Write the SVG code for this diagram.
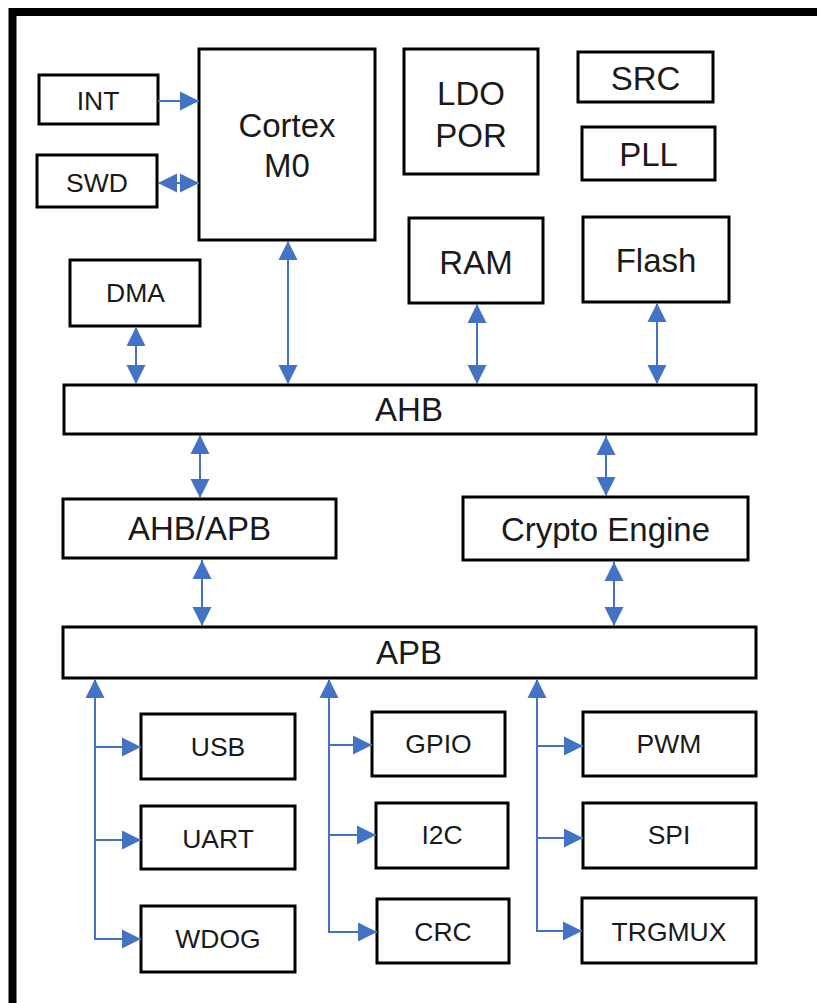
<svg xmlns="http://www.w3.org/2000/svg" width="817" height="1003" viewBox="0 0 817 1003">
<defs>
<marker id="ah" markerUnits="userSpaceOnUse" markerWidth="20" markerHeight="20" viewBox="0 0 20 20" refX="19" refY="10" orient="auto-start-reverse">
<path d="M0,0.5 L19,10 L0,19.5 z" fill="#4472C4"/>
</marker>
<style>
.b{fill:#fff;stroke:#000;stroke-width:3}
.t{font-family:"Liberation Sans",Arial,sans-serif;fill:#1a1a1a;text-anchor:middle}
.s{font-size:26.5px}
.l{font-size:33px}
.c{fill:none;stroke:#4472C4;stroke-width:2}
</style>
</defs>
<rect x="0" y="0" width="817" height="1003" fill="#fff"/>
<path d="M12.5,1003 L12.5,12 L817,12" fill="none" stroke="#000" stroke-width="8"/>

<g id="INT"><rect class="b" x="39" y="75" width="119" height="49"/><text class="t s" x="98" y="110">INT</text></g>
<g id="SWD"><rect class="b" x="37" y="155" width="120" height="52"/><text class="t s" x="97" y="192">SWD</text></g>
<g id="Cortex"><rect class="b" x="199" y="49" width="176" height="191"/><text class="t l" x="287" y="137">Cortex</text><text class="t l" x="287" y="177">M0</text></g>
<g id="LDO"><rect class="b" x="404" y="49" width="134" height="125"/><text class="t l" x="471" y="105">LDO</text><text class="t l" x="471" y="147">POR</text></g>
<g id="SRC"><rect class="b" x="578" y="52" width="135" height="50"/><text class="t l" x="645.5" y="90">SRC</text></g>
<g id="PLL"><rect class="b" x="582" y="127" width="133" height="53"/><text class="t l" x="648.5" y="166">PLL</text></g>
<g id="DMA"><rect class="b" x="70" y="260" width="130" height="66"/><text class="t s" x="135.5" y="302">DMA</text></g>
<g id="RAM"><rect class="b" x="409" y="218" width="134" height="85"/><text class="t l" x="476" y="274">RAM</text></g>
<g id="Flash"><rect class="b" x="583" y="217" width="146" height="85"/><text class="t l" x="656" y="272">Flash</text></g>
<g id="AHB"><rect class="b" x="64" y="385" width="692" height="49"/><text class="t l" x="409" y="421">AHB</text></g>
<g id="AHBAPB"><rect class="b" x="63" y="499" width="273" height="59"/><text class="t l" x="199.5" y="540">AHB/APB</text></g>
<g id="Crypto"><rect class="b" x="463" y="497" width="285" height="63"/><text class="t l" x="605.5" y="541">Crypto Engine</text></g>
<g id="APB"><rect class="b" x="63" y="627" width="693" height="51"/><text class="t l" x="409" y="664">APB</text></g>
<g id="USB"><rect class="b" x="141" y="714" width="154" height="65"/><text class="t s" x="218" y="756">USB</text></g>
<g id="UART"><rect class="b" x="141" y="806" width="154" height="63"/><text class="t s" x="218" y="848">UART</text></g>
<g id="WDOG"><rect class="b" x="141" y="906" width="154" height="66"/><text class="t s" x="218" y="948">WDOG</text></g>
<g id="GPIO"><rect class="b" x="372" y="712" width="133" height="64"/><text class="t s" x="438.5" y="753">GPIO</text></g>
<g id="I2C"><rect class="b" x="376" y="803" width="132" height="65"/><text class="t s" x="442" y="844">I2C</text></g>
<g id="CRC"><rect class="b" x="377" y="899" width="132" height="64"/><text class="t s" x="443" y="941">CRC</text></g>
<g id="PWM"><rect class="b" x="583" y="712" width="173" height="64"/><text class="t s" x="669" y="753">PWM</text></g>
<g id="SPI"><rect class="b" x="583" y="803" width="173" height="65"/><text class="t s" x="669" y="844">SPI</text></g>
<g id="TRGMUX"><rect class="b" x="582" y="898" width="174" height="65"/><text class="t s" x="669" y="941">TRGMUX</text></g>

<g id="connectors">
<line class="c" x1="158" y1="101" x2="199" y2="101" marker-end="url(#ah)"/>
<line class="c" x1="158" y1="183" x2="199" y2="183" marker-start="url(#ah)" marker-end="url(#ah)"/>
<line class="c" x1="136" y1="327" x2="136" y2="384" marker-start="url(#ah)" marker-end="url(#ah)"/>
<line class="c" x1="288" y1="241" x2="288" y2="384" marker-start="url(#ah)" marker-end="url(#ah)"/>
<line class="c" x1="477" y1="304" x2="477" y2="384" marker-start="url(#ah)" marker-end="url(#ah)"/>
<line class="c" x1="657" y1="303" x2="657" y2="384" marker-start="url(#ah)" marker-end="url(#ah)"/>
<line class="c" x1="200" y1="435" x2="200" y2="498" marker-start="url(#ah)" marker-end="url(#ah)"/>
<line class="c" x1="606" y1="436" x2="606" y2="496" marker-start="url(#ah)" marker-end="url(#ah)"/>
<line class="c" x1="202" y1="560" x2="202" y2="626" marker-start="url(#ah)" marker-end="url(#ah)"/>
<line class="c" x1="614" y1="562" x2="614" y2="626" marker-start="url(#ah)" marker-end="url(#ah)"/>
<line class="c" x1="95" y1="939" x2="95" y2="679" marker-end="url(#ah)"/>
<line class="c" x1="95" y1="747" x2="141" y2="747" marker-end="url(#ah)"/>
<line class="c" x1="95" y1="840" x2="141" y2="840" marker-end="url(#ah)"/>
<line class="c" x1="94" y1="939" x2="141" y2="939" marker-end="url(#ah)"/>
<line class="c" x1="329" y1="932" x2="329" y2="679" marker-end="url(#ah)"/>
<line class="c" x1="329" y1="745" x2="372" y2="745" marker-end="url(#ah)"/>
<line class="c" x1="329" y1="835" x2="376" y2="835" marker-end="url(#ah)"/>
<line class="c" x1="328" y1="932" x2="377" y2="932" marker-end="url(#ah)"/>
<line class="c" x1="537" y1="931" x2="537" y2="679" marker-end="url(#ah)"/>
<line class="c" x1="537" y1="746" x2="583" y2="746" marker-end="url(#ah)"/>
<line class="c" x1="537" y1="838" x2="583" y2="838" marker-end="url(#ah)"/>
<line class="c" x1="536" y1="931" x2="582" y2="931" marker-end="url(#ah)"/>
</g>
</svg>
